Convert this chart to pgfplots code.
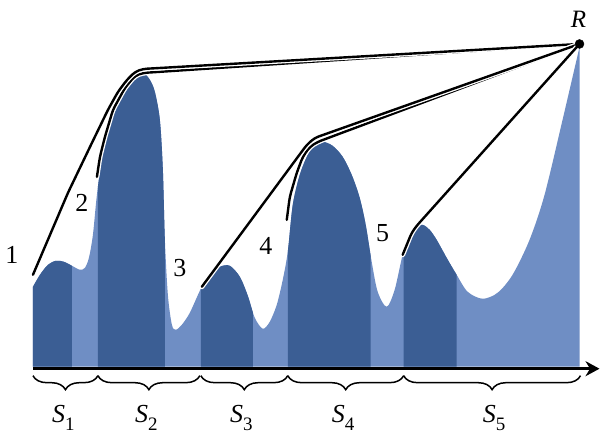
\documentclass[border=0pt]{standalone}
\usepackage{pgfplots}
\pgfplotsset{compat=1.18}
\usepgfplotslibrary{fillbetween}
\usetikzlibrary{decorations.pathreplacing,arrows.meta}
\usepackage{fontspec}
\setmainfont{Liberation Serif}
\definecolor{darkb}{RGB}{59,94,148}
\definecolor{lightb}{RGB}{111,142,196}
\tikzset{br/.style={decorate, decoration={brace, mirror, amplitude=14pt}, line width=1.5pt},
 ln/.style={black, line width=2.4pt, rounded corners=4pt, line cap=round, preaction={draw=white, line width=5pt}}}
\begin{document}
\begin{tikzpicture}
\begin{axis}[
 width=601pt, height=434pt, scale only axis,
 xmin=0, xmax=601, ymin=0, ymax=434, y dir=reverse,
 hide axis, clip=false,
]
\path (rel axis cs:0,0) rectangle (rel axis cs:1,1);
\addplot[name path=curve, draw=none, smooth] coordinates {
(33,287) (40,275) (48,265) (56,261) (64,262) (72,266) (80,270) (85,268) (89,258) (93,235) (97,195)
(103,152) (110,125) (117,107) (125,90) (133,79) (143,73) (150,80) (155,92) (160,120) (163,170)
(165,240) (168,295) (172,325) (176,330) (182,325) (190,313) (201,289) (210,275) (220,267) (230,266)
(240,277) (248,296) (255,318) (263,329) (270,322) (277,305) (283,280) (288,252) (293,205) (300,175)
(308,155) (315,146) (323,142) (333,146) (343,157) (352,175) (360,198) (366,225) (372,262) (378,292)
(387,307) (395,290) (403,255) (410,236) (416,227) (423,225) (430,230) (437,240) (447,258) (457,275)
(468,292) (483,299) (498,293) (513,275) (530,240) (545,195) (563,120) (580,47)};
\addplot[name path=base, draw=none] coordinates {(33,367) (580,367)};
\addplot[fill=lightb, draw=none] fill between[of=curve and base];
\addplot[fill=darkb, draw=none] fill between[of=curve and base, soft clip={domain=33:72}];
\addplot[fill=darkb, draw=none] fill between[of=curve and base, soft clip={domain=98:165}];
\addplot[fill=darkb, draw=none] fill between[of=curve and base, soft clip={domain=201:253}];
\addplot[fill=darkb, draw=none] fill between[of=curve and base, soft clip={domain=288:371}];
\addplot[fill=darkb, draw=none] fill between[of=curve and base, soft clip={domain=404:457}];
% lines to R
\addplot[ln] coordinates {
(97,177) (100,157) (105,137) (113,110) (125,88) (135,76) (143,73) (580,44)};
\addplot[ln] coordinates {
(33,275) (68,193) (92,143) (108,110) (118,92) (127,80) (135,72) (143,69) (580,44)};
\addplot[ln] coordinates {
(287,220) (290,197) (297,173) (303,157) (310,147) (318,142) (580,44)};
\addplot[ln] coordinates {
(202,287) (307,145) (315,138) (580,44)};
\addplot[ln] coordinates {
(403,255) (412,233) (417,226) (580,44)};
\addplot[only marks, mark=*, mark size=4.5pt, black] coordinates {(580,44)};
% axis arrow
\draw[line width=3pt, -{Stealth[length=14pt, width=15pt]}] (axis cs:33,369) -- (axis cs:600,369);
% braces
\draw[br] (axis cs:33,376) -- (axis cs:98,376);
\draw[br] (axis cs:98,376) -- (axis cs:200,376);
\draw[br] (axis cs:201,376) -- (axis cs:288,376);
\draw[br] (axis cs:288,376) -- (axis cs:404,376);
\draw[br] (axis cs:404,376) -- (axis cs:581,376);
% labels
\node[font=\fontsize{26}{30}\selectfont] at (axis cs:12,255) {1};
\node[font=\fontsize{26}{30}\selectfont] at (axis cs:82,203) {2};
\node[font=\fontsize{26}{30}\selectfont] at (axis cs:180,268) {3};
\node[font=\fontsize{26}{30}\selectfont] at (axis cs:266,246) {4};
\node[font=\fontsize{26}{30}\selectfont] at (axis cs:383,233) {5};
\node[font=\fontsize{25}{28}\selectfont] at (axis cs:579,19) {\itshape R};
\node[font=\fontsize{26}{30}\selectfont, anchor=base west, inner sep=0pt] at (axis cs:52,423) {\itshape S\/\upshape\raisebox{-8pt}{\fontsize{19}{20}\selectfont 1}};
\node[font=\fontsize{26}{30}\selectfont, anchor=base west, inner sep=0pt] at (axis cs:135,423) {\itshape S\/\upshape\raisebox{-8pt}{\fontsize{19}{20}\selectfont 2}};
\node[font=\fontsize{26}{30}\selectfont, anchor=base west, inner sep=0pt] at (axis cs:230,423) {\itshape S\/\upshape\raisebox{-8pt}{\fontsize{19}{20}\selectfont 3}};
\node[font=\fontsize{26}{30}\selectfont, anchor=base west, inner sep=0pt] at (axis cs:332,423) {\itshape S\/\upshape\raisebox{-8pt}{\fontsize{19}{20}\selectfont 4}};
\node[font=\fontsize{26}{30}\selectfont, anchor=base west, inner sep=0pt] at (axis cs:483,423) {\itshape S\/\upshape\raisebox{-8pt}{\fontsize{19}{20}\selectfont 5}};
\end{axis}
\end{tikzpicture}
\end{document}
